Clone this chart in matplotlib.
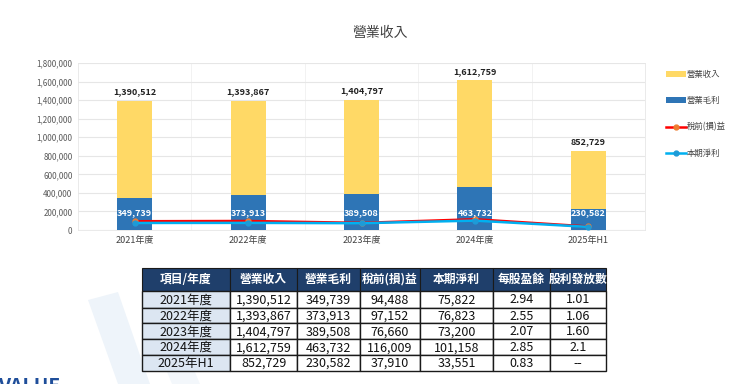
import matplotlib
matplotlib.use("Agg")
import matplotlib.pyplot as plt
from matplotlib.patches import Rectangle, Polygon
import numpy as np

plt.rcParams['font.family'] = ['Noto Sans CJK TC', 'DejaVu Sans']

categories = ["2021年度", "2022年度", "2023年度", "2024年度", "2025年H1"]
revenue = [1390512, 1393867, 1404797, 1612759, 852729]
gross = [349739, 373913, 389508, 463732, 230582]
pretax = [94488, 97152, 76660, 116009, 37910]
net = [75822, 76823, 73200, 101158, 33551]
eps = ["2.94", "2.55", "2.07", "2.85", "0.83"]
dividend = ["1.01", "1.06", "1.60", "2.1", "--"]
table_headers = ["項目/年度", "營業收入", "營業毛利", "稅前(損)益", "本期淨利", "每股盈餘", "股利發放數"]
yticks = [0, 200000, 400000, 600000, 800000, 1000000, 1200000, 1400000, 1600000, 1800000]

W, H = 740, 384
fig = plt.figure(figsize=(W / 100, H / 100), dpi=100)
fig.patch.set_facecolor("white")

# ---- background / table axes ----
tax = fig.add_axes([0, 0, 1, 1])
tax.set_xlim(0, W)
tax.set_ylim(H, 0)
tax.axis("off")

# faint watermark shapes
tax.add_patch(Polygon([(88, 300), (118, 292), (150, 384), (118, 384)], closed=True,
                      facecolor="#EEF4FA", edgecolor="none", zorder=0))
tax.add_patch(Polygon([(150, 330), (175, 325), (200, 384), (172, 384)], closed=True,
                      facecolor="#F3F7FB", edgecolor="none", zorder=0))

# ---- chart ----
x0, x1, ytop, ybot = 78, 645, 63, 230
ax = fig.add_axes([x0 / W, 1 - ybot / H, (x1 - x0) / W, (ybot - ytop) / H])
ax.patch.set_alpha(0)
x = np.arange(len(categories))
bw = 0.31
ax.bar(x, revenue, width=bw, color="#FFD966", zorder=2, label="營業收入")
ax.bar(x, gross, width=bw, color="#2E75B6", zorder=3, label="營業毛利")
ax.plot(x, pretax, color="#FF0000", lw=1.8, marker="o", ms=3.5, mfc="#ED7D31", mec="#ED7D31", zorder=4, label="稅前(損)益")
ax.plot(x, net, color="#00B0F0", lw=1.8, marker="o", ms=3.5, mfc="#1E9BD7", mec="#1E9BD7", zorder=5, label="本期淨利")
for xi, r, g in zip(x, revenue, gross):
    ax.text(xi, r + 50000, f"{r:,}", ha="center", va="bottom", fontsize=6.5, fontweight="bold", color="#222222")
    ax.text(xi, 190000, f"{g:,}", ha="center", va="center", fontsize=6.5, fontweight="bold", color="white", zorder=6)
ax.set_xlim(-0.5, len(categories) - 0.5)
ax.set_ylim(0, 1800000)
ax.set_yticks(yticks)
ax.set_yticklabels([f"{v:,}" for v in yticks], fontsize=5.8, color="#595959")
ax.set_xticks(x)
ax.set_xticklabels(categories, fontsize=6.5, color="#404040")
ax.tick_params(length=0, pad=4)
ax.grid(axis="y", color="#E6E6E6", lw=0.8, zorder=0)
for b in np.arange(0.5, len(categories) - 0.5, 1.0):
    ax.axvline(b, color="#F0F0F0", lw=0.6, zorder=0)
for s in ax.spines.values():
    s.set_color("#E6E6E6")
    s.set_linewidth(0.6)
ax.set_axisbelow(True)

fig.text(380 / W, 1 - 33 / H, "營業收入", ha="center", va="center", fontsize=10, color="#404040")

handles, labels = ax.get_legend_handles_labels()
order = [labels.index(l) for l in ["營業收入", "營業毛利", "稅前(損)益", "本期淨利"]]
leg = fig.legend([handles[i] for i in order], [labels[i] for i in order], loc="upper left",
                 bbox_to_anchor=(658 / W, 1 - 62 / H),
                 frameon=False, fontsize=6, labelspacing=2.1, handlelength=2.4, handletextpad=0.2)
for t in leg.get_texts():
    t.set_color("#404040")

# ---- table ----
cols = [142, 230, 297, 360, 420, 493, 550, 606]
rows = [268, 291, 307.7, 323.3, 339.3, 355, 371]
navy = "#1F3F6B"
for ci in range(7):
    tax.add_patch(Rectangle((cols[ci], rows[0]), cols[ci + 1] - cols[ci], rows[1] - rows[0],
                            facecolor=navy, edgecolor="#1A1A1A", lw=0.8, zorder=2))
    tax.text((cols[ci] + cols[ci + 1]) / 2, (rows[0] + rows[1]) / 2, table_headers[ci],
             ha="center", va="center", fontsize=8.5, color="white", fontweight="bold", zorder=3)

for ri in range(5):
    vals = [categories[ri], f"{revenue[ri]:,}", f"{gross[ri]:,}", f"{pretax[ri]:,}",
            f"{net[ri]:,}", eps[ri], dividend[ri]]
    for ci in range(7):
        fc = "#DCE6F2" if ci == 0 else "white"
        tax.add_patch(Rectangle((cols[ci], rows[ri + 1]), cols[ci + 1] - cols[ci], rows[ri + 2] - rows[ri + 1],
                                facecolor=fc, edgecolor="#1A1A1A", lw=1.0, zorder=2))
        tax.text((cols[ci] + cols[ci + 1]) / 2, (rows[ri + 1] + rows[ri + 2]) / 2 + 0.5, vals[ci],
                 ha="center", va="center", fontsize=9, color="#111111", zorder=3)

tax.text(-2, 396, "VALUE", ha="left", va="bottom", fontsize=14, fontweight="bold", color="#1F4E9A", zorder=3)

fig.savefig("out.png", dpi=100)
